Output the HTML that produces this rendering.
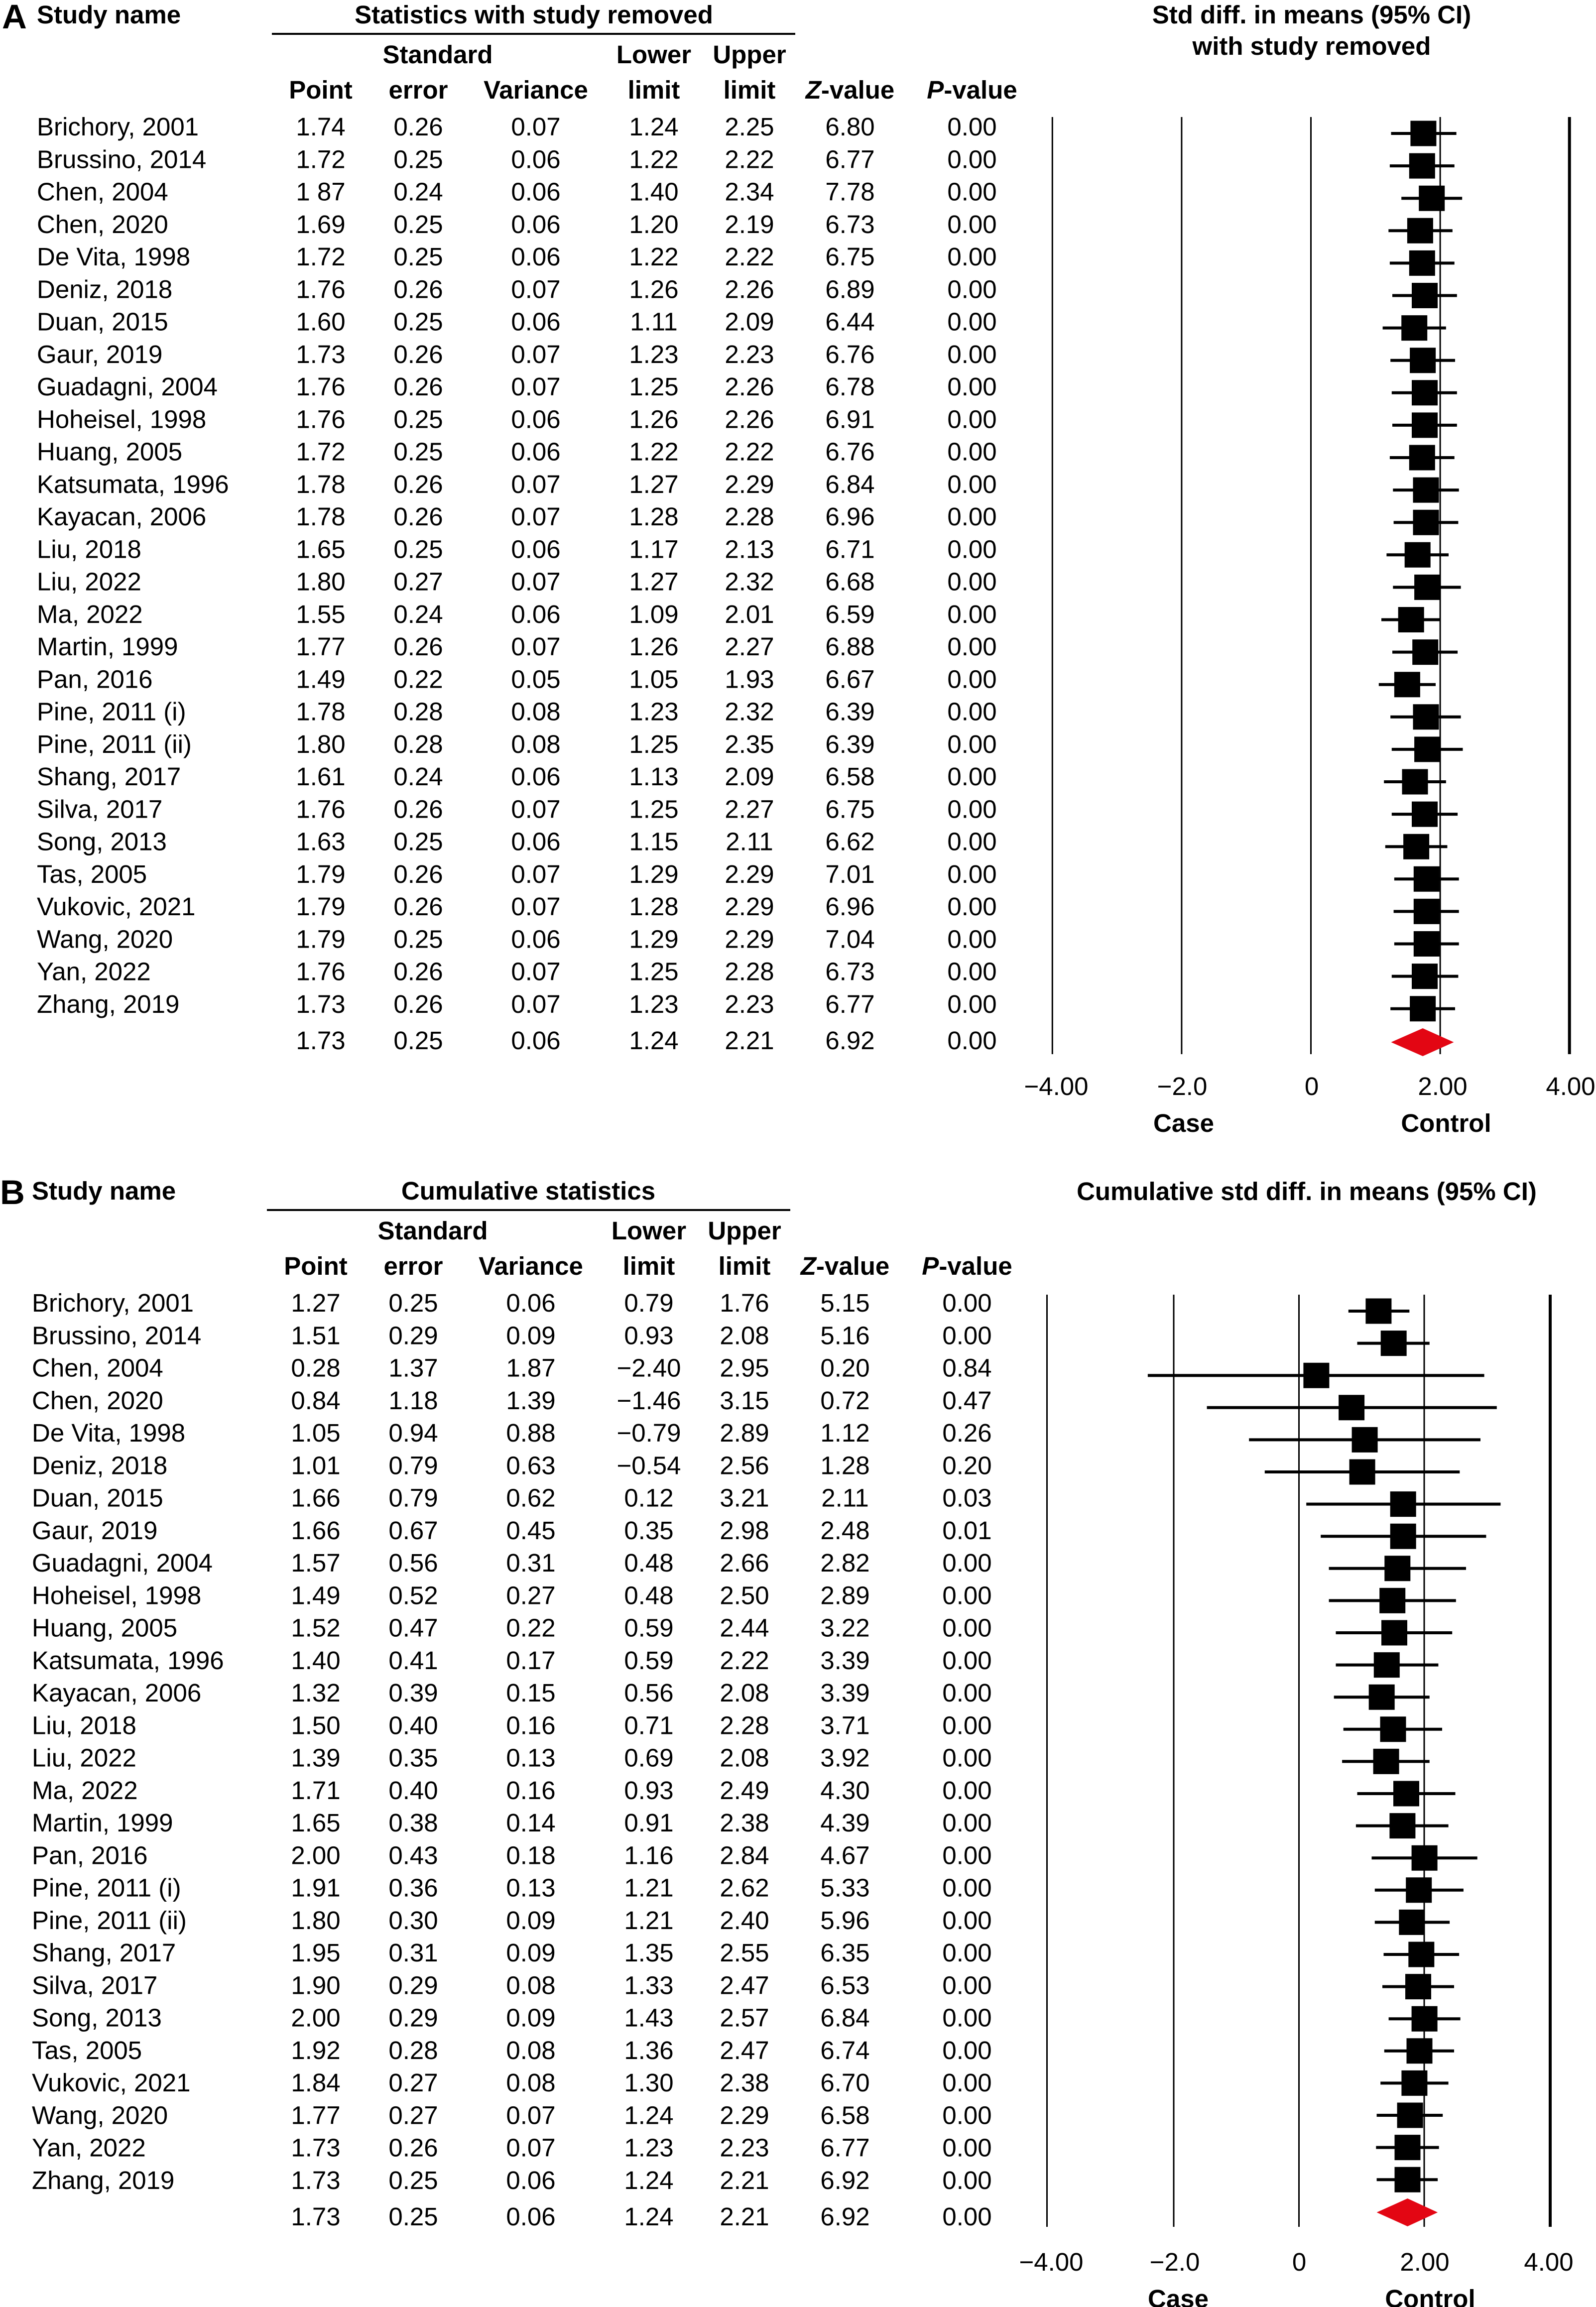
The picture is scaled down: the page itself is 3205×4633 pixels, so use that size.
<!DOCTYPE html>
<html>
<head>
<meta charset="utf-8">
<style>
html,body{margin:0;padding:0;background:#fff;}
svg{display:block;}
text{font-family:"Liberation Sans",Arial,sans-serif;font-size:51px;fill:#000;}
.b{font-weight:bold;}
.m{text-anchor:middle;}
</style>
</head>
<body>
<svg xmlns="http://www.w3.org/2000/svg" width="3205" height="4633" viewBox="0 0 3205 4633">
<rect x="0" y="0" width="3205" height="4633" fill="#fff"/>

<!-- ================= PANEL A ================= -->
<text class="b" x="4" y="57" style="font-size:69px">A</text>
<text class="b" x="74" y="47">Study name</text>
<text class="b m" x="1072" y="47">Statistics with study removed</text>
<rect x="546" y="66" width="1051" height="4" fill="#000"/>
<text class="b m" x="879" y="127">Standard</text>
<text class="b m" x="1313" y="127">Lower</text>
<text class="b m" x="1505" y="127">Upper</text>
<text class="b m" x="644" y="198">Point</text>
<text class="b m" x="840" y="198">error</text>
<text class="b m" x="1076" y="198">Variance</text>
<text class="b m" x="1313" y="198">limit</text>
<text class="b m" x="1505" y="198">limit</text>
<text class="b m" x="1707" y="198"><tspan font-style="italic">Z</tspan>-value</text>
<text class="b m" x="1952" y="198"><tspan font-style="italic">P</tspan>-value</text>
<text class="b m" x="2634" y="47">Std diff. in means (95% CI)</text>
<text class="b m" x="2634" y="110">with study removed</text>

<text x="74" y="272"><tspan x="74" y="272">Brichory, 2001</tspan><tspan x="74" dy="65.25">Brussino, 2014</tspan><tspan x="74" dy="65.25">Chen, 2004</tspan><tspan x="74" dy="65.25">Chen, 2020</tspan><tspan x="74" dy="65.25">De Vita, 1998</tspan><tspan x="74" dy="65.25">Deniz, 2018</tspan><tspan x="74" dy="65.25">Duan, 2015</tspan><tspan x="74" dy="65.25">Gaur, 2019</tspan><tspan x="74" dy="65.25">Guadagni, 2004</tspan><tspan x="74" dy="65.25">Hoheisel, 1998</tspan><tspan x="74" dy="65.25">Huang, 2005</tspan><tspan x="74" dy="65.25">Katsumata, 1996</tspan><tspan x="74" dy="65.25">Kayacan, 2006</tspan><tspan x="74" dy="65.25">Liu, 2018</tspan><tspan x="74" dy="65.25">Liu, 2022</tspan><tspan x="74" dy="65.25">Ma, 2022</tspan><tspan x="74" dy="65.25">Martin, 1999</tspan><tspan x="74" dy="65.25">Pan, 2016</tspan><tspan x="74" dy="65.25">Pine, 2011 (i)</tspan><tspan x="74" dy="65.25">Pine, 2011 (ii)</tspan><tspan x="74" dy="65.25">Shang, 2017</tspan><tspan x="74" dy="65.25">Silva, 2017</tspan><tspan x="74" dy="65.25">Song, 2013</tspan><tspan x="74" dy="65.25">Tas, 2005</tspan><tspan x="74" dy="65.25">Vukovic, 2021</tspan><tspan x="74" dy="65.25">Wang, 2020</tspan><tspan x="74" dy="65.25">Yan, 2022</tspan><tspan x="74" dy="65.25">Zhang, 2019</tspan></text>

<text class="m" x="644" y="272"><tspan x="644" y="272">1.74</tspan><tspan x="644" dy="65.25">1.72</tspan><tspan x="644" dy="65.25">1 87</tspan><tspan x="644" dy="65.25">1.69</tspan><tspan x="644" dy="65.25">1.72</tspan><tspan x="644" dy="65.25">1.76</tspan><tspan x="644" dy="65.25">1.60</tspan><tspan x="644" dy="65.25">1.73</tspan><tspan x="644" dy="65.25">1.76</tspan><tspan x="644" dy="65.25">1.76</tspan><tspan x="644" dy="65.25">1.72</tspan><tspan x="644" dy="65.25">1.78</tspan><tspan x="644" dy="65.25">1.78</tspan><tspan x="644" dy="65.25">1.65</tspan><tspan x="644" dy="65.25">1.80</tspan><tspan x="644" dy="65.25">1.55</tspan><tspan x="644" dy="65.25">1.77</tspan><tspan x="644" dy="65.25">1.49</tspan><tspan x="644" dy="65.25">1.78</tspan><tspan x="644" dy="65.25">1.80</tspan><tspan x="644" dy="65.25">1.61</tspan><tspan x="644" dy="65.25">1.76</tspan><tspan x="644" dy="65.25">1.63</tspan><tspan x="644" dy="65.25">1.79</tspan><tspan x="644" dy="65.25">1.79</tspan><tspan x="644" dy="65.25">1.79</tspan><tspan x="644" dy="65.25">1.76</tspan><tspan x="644" dy="65.25">1.73</tspan><tspan x="644" y="2107">1.73</tspan></text>

<text class="m" x="840" y="272"><tspan x="840" y="272">0.26</tspan><tspan x="840" dy="65.25">0.25</tspan><tspan x="840" dy="65.25">0.24</tspan><tspan x="840" dy="65.25">0.25</tspan><tspan x="840" dy="65.25">0.25</tspan><tspan x="840" dy="65.25">0.26</tspan><tspan x="840" dy="65.25">0.25</tspan><tspan x="840" dy="65.25">0.26</tspan><tspan x="840" dy="65.25">0.26</tspan><tspan x="840" dy="65.25">0.25</tspan><tspan x="840" dy="65.25">0.25</tspan><tspan x="840" dy="65.25">0.26</tspan><tspan x="840" dy="65.25">0.26</tspan><tspan x="840" dy="65.25">0.25</tspan><tspan x="840" dy="65.25">0.27</tspan><tspan x="840" dy="65.25">0.24</tspan><tspan x="840" dy="65.25">0.26</tspan><tspan x="840" dy="65.25">0.22</tspan><tspan x="840" dy="65.25">0.28</tspan><tspan x="840" dy="65.25">0.28</tspan><tspan x="840" dy="65.25">0.24</tspan><tspan x="840" dy="65.25">0.26</tspan><tspan x="840" dy="65.25">0.25</tspan><tspan x="840" dy="65.25">0.26</tspan><tspan x="840" dy="65.25">0.26</tspan><tspan x="840" dy="65.25">0.25</tspan><tspan x="840" dy="65.25">0.26</tspan><tspan x="840" dy="65.25">0.26</tspan><tspan x="840" y="2107">0.25</tspan></text>

<text class="m" x="1076" y="272"><tspan x="1076" y="272">0.07</tspan><tspan x="1076" dy="65.25">0.06</tspan><tspan x="1076" dy="65.25">0.06</tspan><tspan x="1076" dy="65.25">0.06</tspan><tspan x="1076" dy="65.25">0.06</tspan><tspan x="1076" dy="65.25">0.07</tspan><tspan x="1076" dy="65.25">0.06</tspan><tspan x="1076" dy="65.25">0.07</tspan><tspan x="1076" dy="65.25">0.07</tspan><tspan x="1076" dy="65.25">0.06</tspan><tspan x="1076" dy="65.25">0.06</tspan><tspan x="1076" dy="65.25">0.07</tspan><tspan x="1076" dy="65.25">0.07</tspan><tspan x="1076" dy="65.25">0.06</tspan><tspan x="1076" dy="65.25">0.07</tspan><tspan x="1076" dy="65.25">0.06</tspan><tspan x="1076" dy="65.25">0.07</tspan><tspan x="1076" dy="65.25">0.05</tspan><tspan x="1076" dy="65.25">0.08</tspan><tspan x="1076" dy="65.25">0.08</tspan><tspan x="1076" dy="65.25">0.06</tspan><tspan x="1076" dy="65.25">0.07</tspan><tspan x="1076" dy="65.25">0.06</tspan><tspan x="1076" dy="65.25">0.07</tspan><tspan x="1076" dy="65.25">0.07</tspan><tspan x="1076" dy="65.25">0.06</tspan><tspan x="1076" dy="65.25">0.07</tspan><tspan x="1076" dy="65.25">0.07</tspan><tspan x="1076" y="2107">0.06</tspan></text>

<text class="m" x="1313" y="272"><tspan x="1313" y="272">1.24</tspan><tspan x="1313" dy="65.25">1.22</tspan><tspan x="1313" dy="65.25">1.40</tspan><tspan x="1313" dy="65.25">1.20</tspan><tspan x="1313" dy="65.25">1.22</tspan><tspan x="1313" dy="65.25">1.26</tspan><tspan x="1313" dy="65.25">1.11</tspan><tspan x="1313" dy="65.25">1.23</tspan><tspan x="1313" dy="65.25">1.25</tspan><tspan x="1313" dy="65.25">1.26</tspan><tspan x="1313" dy="65.25">1.22</tspan><tspan x="1313" dy="65.25">1.27</tspan><tspan x="1313" dy="65.25">1.28</tspan><tspan x="1313" dy="65.25">1.17</tspan><tspan x="1313" dy="65.25">1.27</tspan><tspan x="1313" dy="65.25">1.09</tspan><tspan x="1313" dy="65.25">1.26</tspan><tspan x="1313" dy="65.25">1.05</tspan><tspan x="1313" dy="65.25">1.23</tspan><tspan x="1313" dy="65.25">1.25</tspan><tspan x="1313" dy="65.25">1.13</tspan><tspan x="1313" dy="65.25">1.25</tspan><tspan x="1313" dy="65.25">1.15</tspan><tspan x="1313" dy="65.25">1.29</tspan><tspan x="1313" dy="65.25">1.28</tspan><tspan x="1313" dy="65.25">1.29</tspan><tspan x="1313" dy="65.25">1.25</tspan><tspan x="1313" dy="65.25">1.23</tspan><tspan x="1313" y="2107">1.24</tspan></text>

<text class="m" x="1505" y="272"><tspan x="1505" y="272">2.25</tspan><tspan x="1505" dy="65.25">2.22</tspan><tspan x="1505" dy="65.25">2.34</tspan><tspan x="1505" dy="65.25">2.19</tspan><tspan x="1505" dy="65.25">2.22</tspan><tspan x="1505" dy="65.25">2.26</tspan><tspan x="1505" dy="65.25">2.09</tspan><tspan x="1505" dy="65.25">2.23</tspan><tspan x="1505" dy="65.25">2.26</tspan><tspan x="1505" dy="65.25">2.26</tspan><tspan x="1505" dy="65.25">2.22</tspan><tspan x="1505" dy="65.25">2.29</tspan><tspan x="1505" dy="65.25">2.28</tspan><tspan x="1505" dy="65.25">2.13</tspan><tspan x="1505" dy="65.25">2.32</tspan><tspan x="1505" dy="65.25">2.01</tspan><tspan x="1505" dy="65.25">2.27</tspan><tspan x="1505" dy="65.25">1.93</tspan><tspan x="1505" dy="65.25">2.32</tspan><tspan x="1505" dy="65.25">2.35</tspan><tspan x="1505" dy="65.25">2.09</tspan><tspan x="1505" dy="65.25">2.27</tspan><tspan x="1505" dy="65.25">2.11</tspan><tspan x="1505" dy="65.25">2.29</tspan><tspan x="1505" dy="65.25">2.29</tspan><tspan x="1505" dy="65.25">2.29</tspan><tspan x="1505" dy="65.25">2.28</tspan><tspan x="1505" dy="65.25">2.23</tspan><tspan x="1505" y="2107">2.21</tspan></text>

<text class="m" x="1707" y="272"><tspan x="1707" y="272">6.80</tspan><tspan x="1707" dy="65.25">6.77</tspan><tspan x="1707" dy="65.25">7.78</tspan><tspan x="1707" dy="65.25">6.73</tspan><tspan x="1707" dy="65.25">6.75</tspan><tspan x="1707" dy="65.25">6.89</tspan><tspan x="1707" dy="65.25">6.44</tspan><tspan x="1707" dy="65.25">6.76</tspan><tspan x="1707" dy="65.25">6.78</tspan><tspan x="1707" dy="65.25">6.91</tspan><tspan x="1707" dy="65.25">6.76</tspan><tspan x="1707" dy="65.25">6.84</tspan><tspan x="1707" dy="65.25">6.96</tspan><tspan x="1707" dy="65.25">6.71</tspan><tspan x="1707" dy="65.25">6.68</tspan><tspan x="1707" dy="65.25">6.59</tspan><tspan x="1707" dy="65.25">6.88</tspan><tspan x="1707" dy="65.25">6.67</tspan><tspan x="1707" dy="65.25">6.39</tspan><tspan x="1707" dy="65.25">6.39</tspan><tspan x="1707" dy="65.25">6.58</tspan><tspan x="1707" dy="65.25">6.75</tspan><tspan x="1707" dy="65.25">6.62</tspan><tspan x="1707" dy="65.25">7.01</tspan><tspan x="1707" dy="65.25">6.96</tspan><tspan x="1707" dy="65.25">7.04</tspan><tspan x="1707" dy="65.25">6.73</tspan><tspan x="1707" dy="65.25">6.77</tspan><tspan x="1707" y="2107">6.92</tspan></text>

<text class="m" x="1952" y="272"><tspan x="1952" y="272">0.00</tspan><tspan x="1952" dy="65.25">0.00</tspan><tspan x="1952" dy="65.25">0.00</tspan><tspan x="1952" dy="65.25">0.00</tspan><tspan x="1952" dy="65.25">0.00</tspan><tspan x="1952" dy="65.25">0.00</tspan><tspan x="1952" dy="65.25">0.00</tspan><tspan x="1952" dy="65.25">0.00</tspan><tspan x="1952" dy="65.25">0.00</tspan><tspan x="1952" dy="65.25">0.00</tspan><tspan x="1952" dy="65.25">0.00</tspan><tspan x="1952" dy="65.25">0.00</tspan><tspan x="1952" dy="65.25">0.00</tspan><tspan x="1952" dy="65.25">0.00</tspan><tspan x="1952" dy="65.25">0.00</tspan><tspan x="1952" dy="65.25">0.00</tspan><tspan x="1952" dy="65.25">0.00</tspan><tspan x="1952" dy="65.25">0.00</tspan><tspan x="1952" dy="65.25">0.00</tspan><tspan x="1952" dy="65.25">0.00</tspan><tspan x="1952" dy="65.25">0.00</tspan><tspan x="1952" dy="65.25">0.00</tspan><tspan x="1952" dy="65.25">0.00</tspan><tspan x="1952" dy="65.25">0.00</tspan><tspan x="1952" dy="65.25">0.00</tspan><tspan x="1952" dy="65.25">0.00</tspan><tspan x="1952" dy="65.25">0.00</tspan><tspan x="1952" dy="65.25">0.00</tspan><tspan x="1952" y="2107">0.00</tspan></text>

<!-- plot A -->
<g stroke="#000" fill="none">
<line x1="2113.3" y1="235" x2="2113.3" y2="2117" stroke-width="3"/>
<line x1="2372.9" y1="235" x2="2372.9" y2="2117" stroke-width="3"/>
<line x1="2632.5" y1="235" x2="2632.5" y2="2117" stroke-width="3"/>
<line x1="2892.1" y1="235" x2="2892.1" y2="2117" stroke-width="3"/>
<line x1="3151.7" y1="235" x2="3151.7" y2="2117" stroke-width="6"/>
<path stroke-width="6" d="M2793.5 268H2924.6M2790.9 333.1H2920.7M2814.2 398.2H2936.2M2788.3 463.3H2916.8M2790.9 528.4H2920.7M2796 593.5H2925.8M2776.6 658.6H2903.8M2792.2 723.7H2922M2794.8 788.8H2925.8M2796 853.9H2925.8M2790.9 919H2920.7M2797.3 984.1H2929.7M2798.6 1049.2H2928.4M2784.4 1114.3H2909M2797.3 1179.4H2933.6M2774 1244.5H2893.4M2796 1309.6H2927.1M2768.8 1374.7H2883M2792.2 1439.8H2933.6M2794.8 1504.9H2937.5M2779.2 1570H2903.8M2794.8 1635.1H2927.1M2781.8 1700.2H2906.4M2799.9 1765.3H2929.7M2798.6 1830.4H2929.7M2799.9 1895.5H2929.7M2794.8 1960.6H2928.4M2792.2 2025.7H2922"/>
</g>
<path fill="#000" d="M2832.4 242.5h52v51h-52zM2829.8 307.6h52v51h-52zM2849.2 372.7h52v51h-52zM2825.9 437.8h52v51h-52zM2829.8 502.9h52v51h-52zM2835 568h52v51h-52zM2814.2 633.1h52v51h-52zM2831.1 698.2h52v51h-52zM2835 763.3h52v51h-52zM2835 828.4h52v51h-52zM2829.8 893.5h52v51h-52zM2837.5 958.6h52v51h-52zM2837.5 1023.7h52v51h-52zM2820.7 1088.8h52v51h-52zM2840.1 1153.9h52v51h-52zM2807.7 1219h52v51h-52zM2836.2 1284.1h52v51h-52zM2799.9 1349.2h52v51h-52zM2837.5 1414.3h52v51h-52zM2840.1 1479.4h52v51h-52zM2815.5 1544.5h52v51h-52zM2835 1609.6h52v51h-52zM2818.1 1674.7h52v51h-52zM2838.8 1739.8h52v51h-52zM2838.8 1804.9h52v51h-52zM2838.8 1870h52v51h-52zM2835 1935.1h52v51h-52zM2831.1 2000.2h52v51h-52z"/>
<path fill="#E30613" d="M2793.5 2093L2857.1 2065L2919.4 2093L2857.1 2121Z"/>

<text class="m" x="2121" y="2199">−4.00</text>
<text class="m" x="2374" y="2199">−2.0</text>
<text class="m" x="2634" y="2199">0</text>
<text class="m" x="2897" y="2199">2.00</text>
<text class="m" x="3154" y="2199">4.00</text>
<text class="b m" x="2377" y="2273">Case</text>
<text class="b m" x="2904" y="2273">Control</text>

<!-- ================= PANEL B ================= -->
<text class="b" x="0" y="2418" style="font-size:69px">B</text>
<text class="b" x="64" y="2409">Study name</text>
<text class="b m" x="1061" y="2409">Cumulative statistics</text>
<rect x="536" y="2428" width="1051" height="4" fill="#000"/>
<text class="b m" x="869" y="2489">Standard</text>
<text class="b m" x="1303" y="2489">Lower</text>
<text class="b m" x="1495" y="2489">Upper</text>
<text class="b m" x="634" y="2560">Point</text>
<text class="b m" x="830" y="2560">error</text>
<text class="b m" x="1066" y="2560">Variance</text>
<text class="b m" x="1303" y="2560">limit</text>
<text class="b m" x="1495" y="2560">limit</text>
<text class="b m" x="1697" y="2560"><tspan font-style="italic">Z</tspan>-value</text>
<text class="b m" x="1942" y="2560"><tspan font-style="italic">P</tspan>-value</text>
<text class="b m" x="2624" y="2410">Cumulative std diff. in means (95% CI)</text>

<text x="64" y="2634"><tspan x="64" y="2634">Brichory, 2001</tspan><tspan x="64" dy="65.25">Brussino, 2014</tspan><tspan x="64" dy="65.25">Chen, 2004</tspan><tspan x="64" dy="65.25">Chen, 2020</tspan><tspan x="64" dy="65.25">De Vita, 1998</tspan><tspan x="64" dy="65.25">Deniz, 2018</tspan><tspan x="64" dy="65.25">Duan, 2015</tspan><tspan x="64" dy="65.25">Gaur, 2019</tspan><tspan x="64" dy="65.25">Guadagni, 2004</tspan><tspan x="64" dy="65.25">Hoheisel, 1998</tspan><tspan x="64" dy="65.25">Huang, 2005</tspan><tspan x="64" dy="65.25">Katsumata, 1996</tspan><tspan x="64" dy="65.25">Kayacan, 2006</tspan><tspan x="64" dy="65.25">Liu, 2018</tspan><tspan x="64" dy="65.25">Liu, 2022</tspan><tspan x="64" dy="65.25">Ma, 2022</tspan><tspan x="64" dy="65.25">Martin, 1999</tspan><tspan x="64" dy="65.25">Pan, 2016</tspan><tspan x="64" dy="65.25">Pine, 2011 (i)</tspan><tspan x="64" dy="65.25">Pine, 2011 (ii)</tspan><tspan x="64" dy="65.25">Shang, 2017</tspan><tspan x="64" dy="65.25">Silva, 2017</tspan><tspan x="64" dy="65.25">Song, 2013</tspan><tspan x="64" dy="65.25">Tas, 2005</tspan><tspan x="64" dy="65.25">Vukovic, 2021</tspan><tspan x="64" dy="65.25">Wang, 2020</tspan><tspan x="64" dy="65.25">Yan, 2022</tspan><tspan x="64" dy="65.25">Zhang, 2019</tspan></text>

<text class="m" x="634" y="2634"><tspan x="634" y="2634">1.27</tspan><tspan x="634" dy="65.25">1.51</tspan><tspan x="634" dy="65.25">0.28</tspan><tspan x="634" dy="65.25">0.84</tspan><tspan x="634" dy="65.25">1.05</tspan><tspan x="634" dy="65.25">1.01</tspan><tspan x="634" dy="65.25">1.66</tspan><tspan x="634" dy="65.25">1.66</tspan><tspan x="634" dy="65.25">1.57</tspan><tspan x="634" dy="65.25">1.49</tspan><tspan x="634" dy="65.25">1.52</tspan><tspan x="634" dy="65.25">1.40</tspan><tspan x="634" dy="65.25">1.32</tspan><tspan x="634" dy="65.25">1.50</tspan><tspan x="634" dy="65.25">1.39</tspan><tspan x="634" dy="65.25">1.71</tspan><tspan x="634" dy="65.25">1.65</tspan><tspan x="634" dy="65.25">2.00</tspan><tspan x="634" dy="65.25">1.91</tspan><tspan x="634" dy="65.25">1.80</tspan><tspan x="634" dy="65.25">1.95</tspan><tspan x="634" dy="65.25">1.90</tspan><tspan x="634" dy="65.25">2.00</tspan><tspan x="634" dy="65.25">1.92</tspan><tspan x="634" dy="65.25">1.84</tspan><tspan x="634" dy="65.25">1.77</tspan><tspan x="634" dy="65.25">1.73</tspan><tspan x="634" dy="65.25">1.73</tspan><tspan x="634" y="4469">1.73</tspan></text>

<text class="m" x="830" y="2634"><tspan x="830" y="2634">0.25</tspan><tspan x="830" dy="65.25">0.29</tspan><tspan x="830" dy="65.25">1.37</tspan><tspan x="830" dy="65.25">1.18</tspan><tspan x="830" dy="65.25">0.94</tspan><tspan x="830" dy="65.25">0.79</tspan><tspan x="830" dy="65.25">0.79</tspan><tspan x="830" dy="65.25">0.67</tspan><tspan x="830" dy="65.25">0.56</tspan><tspan x="830" dy="65.25">0.52</tspan><tspan x="830" dy="65.25">0.47</tspan><tspan x="830" dy="65.25">0.41</tspan><tspan x="830" dy="65.25">0.39</tspan><tspan x="830" dy="65.25">0.40</tspan><tspan x="830" dy="65.25">0.35</tspan><tspan x="830" dy="65.25">0.40</tspan><tspan x="830" dy="65.25">0.38</tspan><tspan x="830" dy="65.25">0.43</tspan><tspan x="830" dy="65.25">0.36</tspan><tspan x="830" dy="65.25">0.30</tspan><tspan x="830" dy="65.25">0.31</tspan><tspan x="830" dy="65.25">0.29</tspan><tspan x="830" dy="65.25">0.29</tspan><tspan x="830" dy="65.25">0.28</tspan><tspan x="830" dy="65.25">0.27</tspan><tspan x="830" dy="65.25">0.27</tspan><tspan x="830" dy="65.25">0.26</tspan><tspan x="830" dy="65.25">0.25</tspan><tspan x="830" y="4469">0.25</tspan></text>

<text class="m" x="1066" y="2634"><tspan x="1066" y="2634">0.06</tspan><tspan x="1066" dy="65.25">0.09</tspan><tspan x="1066" dy="65.25">1.87</tspan><tspan x="1066" dy="65.25">1.39</tspan><tspan x="1066" dy="65.25">0.88</tspan><tspan x="1066" dy="65.25">0.63</tspan><tspan x="1066" dy="65.25">0.62</tspan><tspan x="1066" dy="65.25">0.45</tspan><tspan x="1066" dy="65.25">0.31</tspan><tspan x="1066" dy="65.25">0.27</tspan><tspan x="1066" dy="65.25">0.22</tspan><tspan x="1066" dy="65.25">0.17</tspan><tspan x="1066" dy="65.25">0.15</tspan><tspan x="1066" dy="65.25">0.16</tspan><tspan x="1066" dy="65.25">0.13</tspan><tspan x="1066" dy="65.25">0.16</tspan><tspan x="1066" dy="65.25">0.14</tspan><tspan x="1066" dy="65.25">0.18</tspan><tspan x="1066" dy="65.25">0.13</tspan><tspan x="1066" dy="65.25">0.09</tspan><tspan x="1066" dy="65.25">0.09</tspan><tspan x="1066" dy="65.25">0.08</tspan><tspan x="1066" dy="65.25">0.09</tspan><tspan x="1066" dy="65.25">0.08</tspan><tspan x="1066" dy="65.25">0.08</tspan><tspan x="1066" dy="65.25">0.07</tspan><tspan x="1066" dy="65.25">0.07</tspan><tspan x="1066" dy="65.25">0.06</tspan><tspan x="1066" y="4469">0.06</tspan></text>

<text class="m" x="1303" y="2634"><tspan x="1303" y="2634">0.79</tspan><tspan x="1303" dy="65.25">0.93</tspan><tspan x="1303" dy="65.25">−2.40</tspan><tspan x="1303" dy="65.25">−1.46</tspan><tspan x="1303" dy="65.25">−0.79</tspan><tspan x="1303" dy="65.25">−0.54</tspan><tspan x="1303" dy="65.25">0.12</tspan><tspan x="1303" dy="65.25">0.35</tspan><tspan x="1303" dy="65.25">0.48</tspan><tspan x="1303" dy="65.25">0.48</tspan><tspan x="1303" dy="65.25">0.59</tspan><tspan x="1303" dy="65.25">0.59</tspan><tspan x="1303" dy="65.25">0.56</tspan><tspan x="1303" dy="65.25">0.71</tspan><tspan x="1303" dy="65.25">0.69</tspan><tspan x="1303" dy="65.25">0.93</tspan><tspan x="1303" dy="65.25">0.91</tspan><tspan x="1303" dy="65.25">1.16</tspan><tspan x="1303" dy="65.25">1.21</tspan><tspan x="1303" dy="65.25">1.21</tspan><tspan x="1303" dy="65.25">1.35</tspan><tspan x="1303" dy="65.25">1.33</tspan><tspan x="1303" dy="65.25">1.43</tspan><tspan x="1303" dy="65.25">1.36</tspan><tspan x="1303" dy="65.25">1.30</tspan><tspan x="1303" dy="65.25">1.24</tspan><tspan x="1303" dy="65.25">1.23</tspan><tspan x="1303" dy="65.25">1.24</tspan><tspan x="1303" y="4469">1.24</tspan></text>

<text class="m" x="1495" y="2634"><tspan x="1495" y="2634">1.76</tspan><tspan x="1495" dy="65.25">2.08</tspan><tspan x="1495" dy="65.25">2.95</tspan><tspan x="1495" dy="65.25">3.15</tspan><tspan x="1495" dy="65.25">2.89</tspan><tspan x="1495" dy="65.25">2.56</tspan><tspan x="1495" dy="65.25">3.21</tspan><tspan x="1495" dy="65.25">2.98</tspan><tspan x="1495" dy="65.25">2.66</tspan><tspan x="1495" dy="65.25">2.50</tspan><tspan x="1495" dy="65.25">2.44</tspan><tspan x="1495" dy="65.25">2.22</tspan><tspan x="1495" dy="65.25">2.08</tspan><tspan x="1495" dy="65.25">2.28</tspan><tspan x="1495" dy="65.25">2.08</tspan><tspan x="1495" dy="65.25">2.49</tspan><tspan x="1495" dy="65.25">2.38</tspan><tspan x="1495" dy="65.25">2.84</tspan><tspan x="1495" dy="65.25">2.62</tspan><tspan x="1495" dy="65.25">2.40</tspan><tspan x="1495" dy="65.25">2.55</tspan><tspan x="1495" dy="65.25">2.47</tspan><tspan x="1495" dy="65.25">2.57</tspan><tspan x="1495" dy="65.25">2.47</tspan><tspan x="1495" dy="65.25">2.38</tspan><tspan x="1495" dy="65.25">2.29</tspan><tspan x="1495" dy="65.25">2.23</tspan><tspan x="1495" dy="65.25">2.21</tspan><tspan x="1495" y="4469">2.21</tspan></text>

<text class="m" x="1697" y="2634"><tspan x="1697" y="2634">5.15</tspan><tspan x="1697" dy="65.25">5.16</tspan><tspan x="1697" dy="65.25">0.20</tspan><tspan x="1697" dy="65.25">0.72</tspan><tspan x="1697" dy="65.25">1.12</tspan><tspan x="1697" dy="65.25">1.28</tspan><tspan x="1697" dy="65.25">2.11</tspan><tspan x="1697" dy="65.25">2.48</tspan><tspan x="1697" dy="65.25">2.82</tspan><tspan x="1697" dy="65.25">2.89</tspan><tspan x="1697" dy="65.25">3.22</tspan><tspan x="1697" dy="65.25">3.39</tspan><tspan x="1697" dy="65.25">3.39</tspan><tspan x="1697" dy="65.25">3.71</tspan><tspan x="1697" dy="65.25">3.92</tspan><tspan x="1697" dy="65.25">4.30</tspan><tspan x="1697" dy="65.25">4.39</tspan><tspan x="1697" dy="65.25">4.67</tspan><tspan x="1697" dy="65.25">5.33</tspan><tspan x="1697" dy="65.25">5.96</tspan><tspan x="1697" dy="65.25">6.35</tspan><tspan x="1697" dy="65.25">6.53</tspan><tspan x="1697" dy="65.25">6.84</tspan><tspan x="1697" dy="65.25">6.74</tspan><tspan x="1697" dy="65.25">6.70</tspan><tspan x="1697" dy="65.25">6.58</tspan><tspan x="1697" dy="65.25">6.77</tspan><tspan x="1697" dy="65.25">6.92</tspan><tspan x="1697" y="4469">6.92</tspan></text>

<text class="m" x="1942" y="2634"><tspan x="1942" y="2634">0.00</tspan><tspan x="1942" dy="65.25">0.00</tspan><tspan x="1942" dy="65.25">0.84</tspan><tspan x="1942" dy="65.25">0.47</tspan><tspan x="1942" dy="65.25">0.26</tspan><tspan x="1942" dy="65.25">0.20</tspan><tspan x="1942" dy="65.25">0.03</tspan><tspan x="1942" dy="65.25">0.01</tspan><tspan x="1942" dy="65.25">0.00</tspan><tspan x="1942" dy="65.25">0.00</tspan><tspan x="1942" dy="65.25">0.00</tspan><tspan x="1942" dy="65.25">0.00</tspan><tspan x="1942" dy="65.25">0.00</tspan><tspan x="1942" dy="65.25">0.00</tspan><tspan x="1942" dy="65.25">0.00</tspan><tspan x="1942" dy="65.25">0.00</tspan><tspan x="1942" dy="65.25">0.00</tspan><tspan x="1942" dy="65.25">0.00</tspan><tspan x="1942" dy="65.25">0.00</tspan><tspan x="1942" dy="65.25">0.00</tspan><tspan x="1942" dy="65.25">0.00</tspan><tspan x="1942" dy="65.25">0.00</tspan><tspan x="1942" dy="65.25">0.00</tspan><tspan x="1942" dy="65.25">0.00</tspan><tspan x="1942" dy="65.25">0.00</tspan><tspan x="1942" dy="65.25">0.00</tspan><tspan x="1942" dy="65.25">0.00</tspan><tspan x="1942" dy="65.25">0.00</tspan><tspan x="1942" y="4469">0.00</tspan></text>

<!-- plot B -->
<g stroke="#000" fill="none">
<line x1="2102.5" y1="2600" x2="2102.5" y2="4472" stroke-width="3"/>
<line x1="2357" y1="2600" x2="2357" y2="4472" stroke-width="3"/>
<line x1="2608.5" y1="2600" x2="2608.5" y2="4472" stroke-width="3"/>
<line x1="2860" y1="2600" x2="2860" y2="4472" stroke-width="3"/>
<line x1="3113" y1="2600" x2="3113" y2="4472" stroke-width="6"/>
<path stroke-width="6" d="M2707.8 2633H2830.3M2725.5 2697.6H2870.7M2304.9 2762.2H2980.6M2423.6 2826.8H3005.8M2508.2 2891.4H2973M2539.8 2956H2931.3M2623.2 3020.6H3013.4M2652.2 3085.2H2984.4M2668.6 3149.8H2944M2668.6 3214.4H2923.8M2682.5 3279H2916.2M2682.5 3343.6H2888.4M2678.7 3408.2H2870.7M2697.7 3472.8H2896M2695.1 3537.4H2870.7M2725.5 3602H2922.5M2722.9 3666.6H2908.6M2754.5 3731.2H2966.7M2760.8 3795.8H2938.9M2760.8 3860.4H2911.1M2778.5 3925H2930.1M2776 3989.6H2920M2788.6 4054.2H2932.6M2779.8 4118.8H2920M2772.2 4183.4H2908.6M2764.6 4248H2897.2M2763.3 4312.6H2889.6M2764.6 4377.2H2887.1"/>
</g>
<path fill="#000" d="M2742.4 2607.5h52v51h-52zM2772.7 2672.1h52v51h-52zM2617.4 2736.7h52v51h-52zM2688.1 2801.3h52v51h-52zM2714.6 2865.9h52v51h-52zM2709.6 2930.5h52v51h-52zM2791.7 2995.1h52v51h-52zM2791.7 3059.7h52v51h-52zM2780.3 3124.3h52v51h-52zM2770.2 3188.9h52v51h-52zM2774 3253.5h52v51h-52zM2758.8 3318.1h52v51h-52zM2748.7 3382.7h52v51h-52zM2771.5 3447.3h52v51h-52zM2757.6 3511.9h52v51h-52zM2798 3576.5h52v51h-52zM2790.4 3641.1h52v51h-52zM2834.6 3705.7h52v51h-52zM2823.2 3770.3h52v51h-52zM2809.3 3834.9h52v51h-52zM2828.3 3899.5h52v51h-52zM2822 3964.1h52v51h-52zM2834.6 4028.7h52v51h-52zM2824.5 4093.3h52v51h-52zM2814.4 4157.9h52v51h-52zM2805.6 4222.5h52v51h-52zM2800.5 4287.1h52v51h-52zM2800.5 4351.7h52v51h-52z"/>
<path fill="#E30613" d="M2764.6 4443L2826.5 4415L2887.1 4443L2826.5 4471Z"/>

<text class="m" x="2111" y="4560">−4.00</text>
<text class="m" x="2359" y="4560">−2.0</text>
<text class="m" x="2609" y="4560">0</text>
<text class="m" x="2861" y="4560">2.00</text>
<text class="m" x="3110" y="4560">4.00</text>
<text class="b m" x="2366" y="4634">Case</text>
<text class="b m" x="2872" y="4634">Control</text>
</svg>
</body>
</html>
